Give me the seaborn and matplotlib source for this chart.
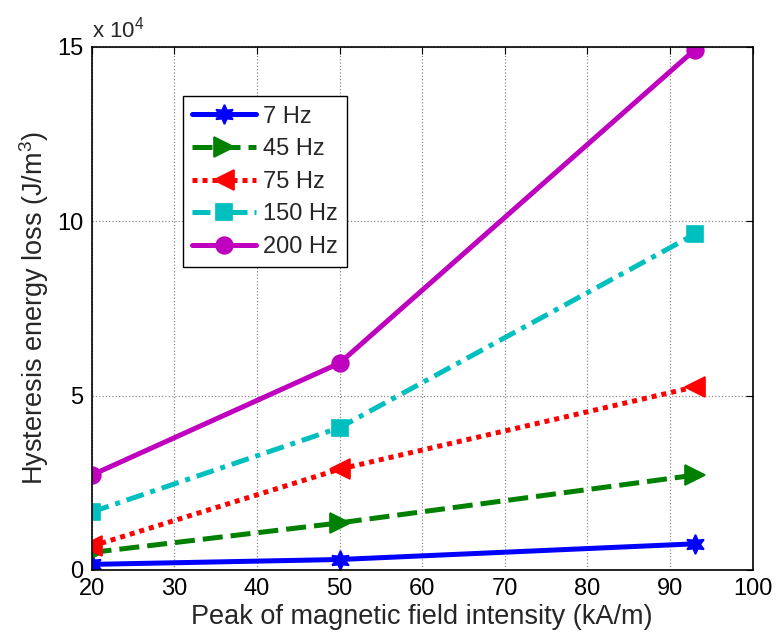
import matplotlib
matplotlib.use("Agg")
import matplotlib.pyplot as plt
from matplotlib.ticker import FuncFormatter
import seaborn as sns

# ── Data ───────────────────────────────────────────────────────────────────────
field_kam = [20, 50, 93]
loss_7hz   = [1600, 3000, 7500]
loss_45hz  = [5000, 13500, 27200]
loss_75hz  = [6800, 28900, 52500]
loss_150hz = [16600, 40800, 96300]
loss_200hz = [27200, 59300, 149200]
series_labels = ["7 Hz", "45 Hz", "75 Hz", "150 Hz", "200 Hz"]

x_ticks = [20, 30, 40, 50, 60, 70, 80, 90, 100]
y_ticks = [0, 50000, 100000, 150000]

# ── Style ──────────────────────────────────────────────────────────────────────
sns.set_style("white")
plt.rcParams["font.family"] = ["Liberation Sans", "DejaVu Sans"]
plt.rcParams["mathtext.fontset"] = "custom"
plt.rcParams["mathtext.rm"] = "Liberation Sans"
plt.rcParams["mathtext.it"] = "Liberation Sans:italic"

styles = [
    dict(color=(0, 0, 1), linestyle="-", marker=(6, 1, 0), markersize=14),
    dict(color=(0, 0.5, 0), linestyle=(0, (4, 1.6)), marker=">", markersize=15),
    dict(color=(1, 0, 0), linestyle=(0, (1, 1)), marker="<", markersize=15),
    dict(color=(0, 0.75, 0.75), linestyle=(0, (3.6, 1.4, 1, 1.4)), marker="s", markersize=11),
    dict(color=(0.75, 0, 0.75), linestyle="-", marker="o", markersize=12),
]
series = [loss_7hz, loss_45hz, loss_75hz, loss_150hz, loss_200hz]

fig = plt.figure(figsize=(7.76, 6.34), dpi=100)
ax = fig.add_axes([0.118, 0.101, 0.852, 0.825])

for vals, lab, st in zip(series, series_labels, styles):
    sns.lineplot(x=field_kam, y=vals, ax=ax, label=lab, linewidth=3.6,
                 markeredgewidth=1.2, markeredgecolor=st["color"], **st)

ax.set_xlim(20, 100)
ax.set_ylim(0, 150000)
ax.set_xticks(x_ticks)
ax.set_yticks(y_ticks)
ax.yaxis.set_major_formatter(FuncFormatter(lambda v, p: f"{v / 1e4:g}"))

ax.grid(True, color="#8c8c8c", linestyle=":", linewidth=0.9)
ax.tick_params(direction="in", length=5, width=0.8, labelsize=17,
               top=True, right=True, colors="black", pad=6)
for sp in ax.spines.values():
    sp.set_color("black")
    sp.set_linewidth(1.2)

ax.set_xlabel("Peak of magnetic field intensity (kA/m)", fontsize=19.5, labelpad=3)
ax.set_ylabel("Hysteresis energy loss (J/m$^3$)", fontsize=19.5, labelpad=4)
ax.text(0.0, 1.008, "x 10$^4$", transform=ax.transAxes, fontsize=16,
        ha="left", va="bottom")

leg = ax.legend(loc="upper left", bbox_to_anchor=(0.138, 0.906),
                borderaxespad=0, fontsize=17, handlelength=2.7,
                fancybox=False, framealpha=1, edgecolor="black",
                labelspacing=0.45, borderpad=0.4, handletextpad=0.3)
leg.get_frame().set_linewidth(1.0)

fig.savefig("out.png", dpi=100)
